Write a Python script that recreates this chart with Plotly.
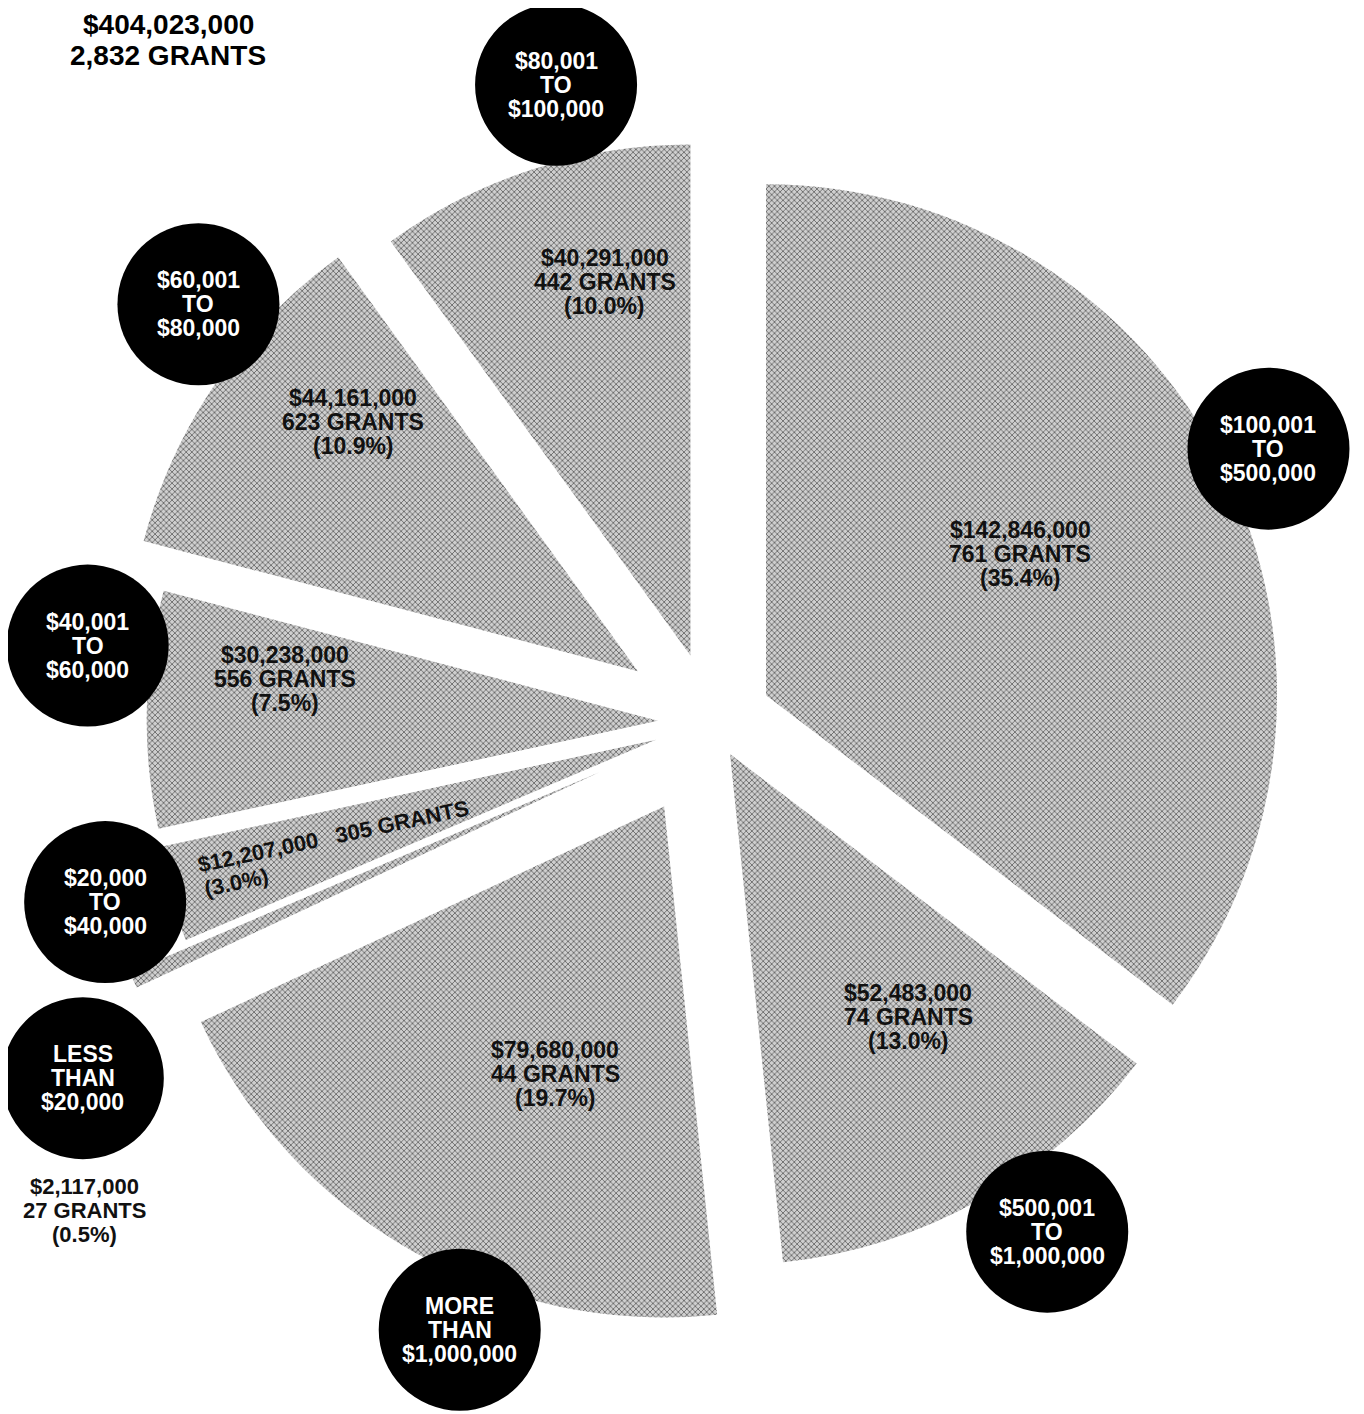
import numpy as np
import plotly.graph_objects as go

# ---------------- data ----------------
categories = ["$100,001 TO $500,000", "$500,001 TO $1,000,000", "MORE THAN $1,000,000",
              "LESS THAN $20,000", "$20,000 TO $40,000", "$40,001 TO $60,000",
              "$60,001 TO $80,000", "$80,001 TO $100,000"]
amounts = [142846000, 52483000, 79680000, 2117000, 12207000, 30238000, 44161000, 40291000]
grants = [761, 74, 44, 27, 305, 556, 623, 442]
percents = [35.4, 13.0, 19.7, 0.5, 3.0, 7.5, 10.9, 10.0]
total_amount = 404023000
total_grants = 2832

# ---------------- layout parameters ----------------
W, H = 1364, 1414
CX, CY, R = 704, 714, 511
pulls = [0.118, 0.072, 0.19, 0.24, 0.115, 0.106, 0.176, 0.137]
circle_off = [-0.2, 4.0, 7.0, 5.5, -1.1, -5.7, -4.7, -4.2]     # degrees from slice mid
circle_dist = [620, 610, 658, 723, 633, 629, 662, 656]          # px from centre
circle_r = 81
text_off = [2.2, 4.3, 5.5, None, -0.9, -4.5, -5.5, -4.25]
text_dist = [351, 354, 385, None, 396, 429, 468, 453]
LINE = 24

FONT = "Liberation Sans, Arial, sans-serif"

maxp = max(pulls)
box = 2 * R * (1 + maxp)
dom_x = [(CX - box / 2) / W, (CX + box / 2) / W]
dom_y = [1 - (CY + box / 2) / H, 1 - (CY - box / 2) / H]

vals = np.array(amounts, float)
frac = vals / vals.sum()
start = 90 - 360 * np.concatenate([[0], np.cumsum(frac)[:-1]])
mid = start - 180 * frac


def pt(angle_deg, dist):
    a = np.radians(angle_deg)
    return CX + dist * np.cos(a), CY - dist * np.sin(a)


fig = go.Figure()
fig.add_trace(go.Pie(
    labels=categories, values=amounts, sort=False, direction="clockwise", rotation=0,
    pull=pulls, textinfo="none", hoverinfo="label+value+percent",
    marker=dict(colors=["#cfcfcf"] * len(amounts), line=dict(width=0),
                pattern=dict(shape="x", fgcolor="#6a6a6a", bgcolor="#cfcfcf",
                             size=4, solidity=0.4, fillmode="replace")),
    domain=dict(x=dom_x, y=dom_y), showlegend=False,
))
# invisible pixel-unit axes for overlays
fig.add_trace(go.Scatter(x=[0, W], y=[0, H], mode="markers", marker=dict(opacity=0),
                         hoverinfo="skip", showlegend=False))

shapes = []
annotations = []


def add_text(x, y, text, size, color, angle=0):
    annotations.append(dict(x=x, y=y, xref="x", yref="y", text=text, showarrow=False,
                            font=dict(size=size, color=color, family=FONT),
                            xanchor="center", yanchor="middle", textangle=angle))


for i, cat in enumerate(categories):
    # black label circle
    cx, cy = pt(mid[i] + circle_off[i], circle_dist[i])
    shapes.append(dict(type="circle", xref="x", yref="y", x0=cx - circle_r, x1=cx + circle_r,
                       y0=cy - circle_r, y1=cy + circle_r, fillcolor="black",
                       line=dict(width=0), layer="above"))
    for k, word in enumerate(cat.split(" ")):
        add_text(cx, cy + (k - 1) * LINE, "<b>%s</b>" % word, 23, "white")

    lines = ["$%s" % format(amounts[i], ","), "%s GRANTS" % format(grants[i], ","),
             "(%.1f%%)" % percents[i]]
    if text_off[i] is None:
        # label outside, below its circle
        for k, ln in enumerate(lines):
            add_text(cx + 2, cy + 108 + k * LINE, "<b>%s</b>" % ln, 22, "#111")
    elif percents[i] < 5:
        ang = 12
        tx, ty = pt(mid[i] + text_off[i], text_dist[i])
        add_text(tx, ty, "<b>%s&nbsp;&nbsp;&nbsp;%s</b>" % (lines[0], lines[1]), 22, "#111",
                 angle=-ang)
        d = np.array([np.cos(np.radians(ang)), -np.sin(np.radians(ang))])
        p = np.array([np.sin(np.radians(ang)), np.cos(np.radians(ang))])
        q = np.array([tx, ty]) - 104 * d + 25 * p
        add_text(q[0], q[1], "<b>%s</b>" % lines[2], 22, "#111", angle=-ang)
    else:
        tx, ty = pt(mid[i] + text_off[i], text_dist[i])
        for k, ln in enumerate(lines):
            add_text(tx, ty + (k - 1) * LINE, "<b>%s</b>" % ln, 23, "#111")

# headline totals
add_text(160, 16, "<b>$%s</b>" % format(total_amount, ","), 28, "black")
add_text(160, 47, "<b>%s GRANTS</b>" % format(total_grants, ","), 28, "black")

fig.update_layout(
    width=W, height=H, margin=dict(l=0, r=0, t=0, b=0),
    paper_bgcolor="white", plot_bgcolor="white",
    xaxis=dict(range=[0, W], visible=False, fixedrange=True, domain=[0, 1]),
    yaxis=dict(range=[H, 0], visible=False, fixedrange=True, domain=[0, 1]),
    shapes=shapes, annotations=annotations, showlegend=False,
)
fig.write_html("out.html")
